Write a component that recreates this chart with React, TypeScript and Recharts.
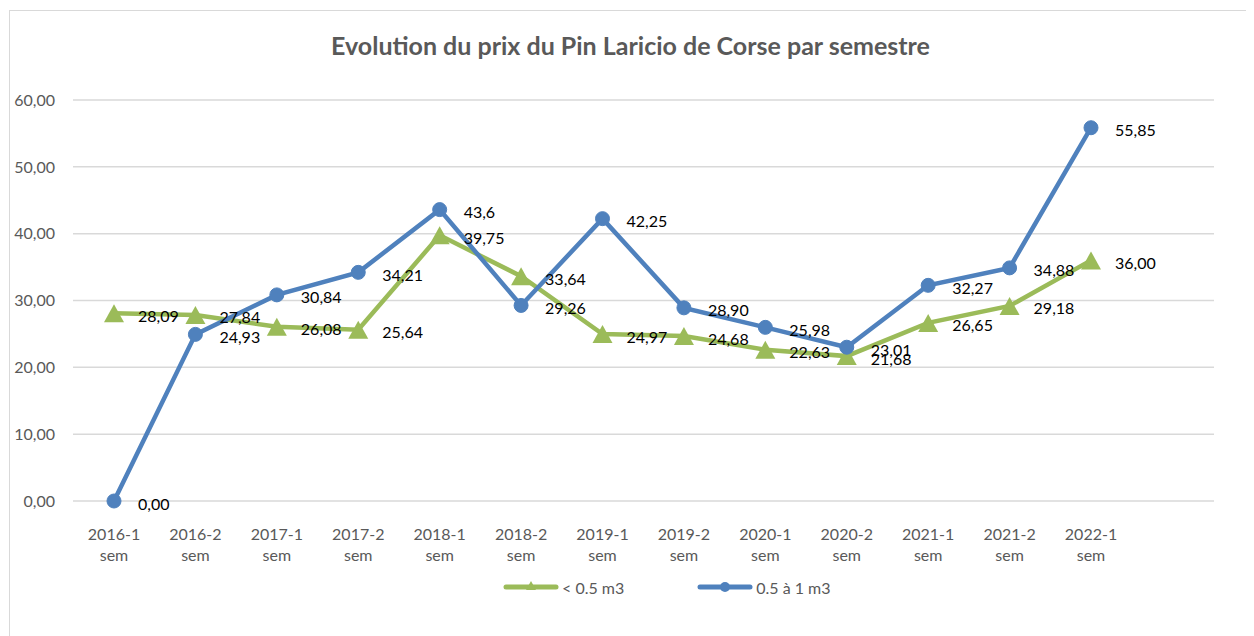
import { CartesianGrid, LabelList, Legend, Line, LineChart, XAxis, YAxis } from "recharts"

const periods = [
  "2016-1 sem",
  "2016-2 sem",
  "2017-1 sem",
  "2017-2 sem",
  "2018-1 sem",
  "2018-2 sem",
  "2019-1 sem",
  "2019-2 sem",
  "2020-1 sem",
  "2020-2 sem",
  "2021-1 sem",
  "2021-2 sem",
  "2022-1 sem",
]

// < 0.5 m3
const smallLogValues = [28.09, 27.84, 26.08, 25.64, 39.75, 33.64, 24.97, 24.68, 22.63, 21.68, 26.65, 29.18, 36.0]
const smallLogLabels = ["28,09", "27,84", "26,08", "25,64", "39,75", "33,64", "24,97", "24,68", "22,63", "21,68", "26,65", "29,18", "36,00"]

// 0.5 à 1 m3
const mediumLogValues = [0.0, 24.93, 30.84, 34.21, 43.6, 29.26, 42.25, 28.9, 25.98, 23.01, 32.27, 34.88, 55.85]
const mediumLogLabels = ["0,00", "24,93", "30,84", "34,21", "43,6", "29,26", "42,25", "28,90", "25,98", "23,01", "32,27", "34,88", "55,85"]

const yTicks = [0, 10, 20, 30, 40, 50, 60]

const seriesOrder = ["small", "medium"]

const GREEN = "#9BBB59"
const BLUE = "#4F81BD"
const GREY_TEXT = "#595959"
const FONT = "Lato, 'Open Sans', sans-serif"

const data = periods.map((period, i) => ({
  period,
  small: smallLogValues[i],
  medium: mediumLogValues[i],
}))

function PeriodTick({ x, y, payload }: any) {
  const [year, unit] = String(payload.value).split(" ")
  return (
    <text x={x} y={y} textAnchor="middle" fill={GREY_TEXT} fontSize={16} fontFamily={FONT}>
      <tspan x={x} dy={31}>{year}</tspan>
      <tspan x={x} dy={21}>{unit}</tspan>
    </text>
  )
}

function TriangleDot({ cx, cy, index }: any) {
  if (cx == null || cy == null) return null
  return (
    <polygon
      key={`tri-${index}`}
      points={`${cx},${cy - 9} ${cx + 10},${cy + 9} ${cx - 10},${cy + 9}`}
      fill={GREEN}
    />
  )
}

const valueLabel = (texts: string[]) => (props: any) => {
  const { x, y, index } = props
  return (
    <text
      key={`lbl-${index}`}
      x={x + 24}
      y={y + 2}
      dominantBaseline="central"
      fontSize={16}
      fontFamily={FONT}
      fill="#000"
    >
      {texts[index]}
    </text>
  )
}

function SeriesLegend({ payload }: any) {
  const items = [...(payload || [])].sort(
    (a: any, b: any) => seriesOrder.indexOf(a.dataKey) - seriesOrder.indexOf(b.dataKey),
  )
  return (
    <div style={{ display: "flex", alignItems: "center", height: 24, paddingLeft: 493 }}>
      {items.map((entry: any, i: number) => (
        <div key={entry.value} style={{ display: "flex", alignItems: "center", marginLeft: i === 0 ? 0 : 73 }}>
          <svg width={56} height={16}>
            <line x1={3} y1={8} x2={53} y2={8} stroke={entry.color} strokeWidth={5} strokeLinecap="round" />
            {entry.dataKey === "small" ? (
              <polygon points="28,2 33,11 23,11" fill={entry.color} />
            ) : (
              <circle cx={28} cy={8} r={5} fill={entry.color} />
            )}
          </svg>
          <span style={{ marginLeft: 3, color: GREY_TEXT, fontSize: 16, fontFamily: FONT }}>{entry.value}</span>
        </div>
      ))}
    </div>
  )
}

export default function App() {
  return (
    <div
      style={{
        position: "relative",
        left: 1,
        top: 2,
        width: 1243,
        height: 628,
        boxSizing: "border-box",
        border: "1px solid #d9d9d9",
        background: "#fff",
        fontFamily: FONT,
      }}
    >
      <div
        style={{
          position: "absolute",
          top: 19,
          left: 0,
          width: "100%",
          textAlign: "center",
          fontSize: 25,
          fontWeight: 700,
          color: GREY_TEXT,
        }}
      >
        Evolution du prix du Pin Laricio de Corse par semestre
      </div>
      <LineChart width={1241} height={626} data={data} margin={{ top: 89, right: 37, left: 0, bottom: 38 }}>
        <CartesianGrid vertical={false} stroke="#d9d9d9" strokeWidth={1.5} />
        <XAxis
          dataKey="period"
          scale="point"
          padding={{ left: 41, right: 123 }}
          interval={0}
          tickLine={false}
          axisLine={false}
          height={74}
          tick={<PeriodTick />}
        />
        <YAxis
          domain={[0, 60]}
          ticks={yTicks}
          width={63}
          tickLine={false}
          axisLine={false}
          tickSize={0}
          tickMargin={18}
          tick={{ fill: GREY_TEXT, fontSize: 16, fontFamily: FONT }}
          tickFormatter={(v: number) => v.toFixed(2).replace(".", ",")}
        />
        <Legend verticalAlign="bottom" content={<SeriesLegend />} />
        <Line
          type="linear"
          dataKey="small"
          name="< 0.5 m3"
          stroke={GREEN}
          strokeWidth={4.5}
          dot={<TriangleDot />}
          activeDot={false}
          isAnimationActive={false}
        >
          <LabelList dataKey="small" content={valueLabel(smallLogLabels)} />
        </Line>
        <Line
          type="linear"
          dataKey="medium"
          name="0.5 à 1 m3"
          stroke={BLUE}
          strokeWidth={4.5}
          dot={{ r: 7, fill: BLUE, stroke: BLUE, strokeWidth: 1 }}
          activeDot={false}
          isAnimationActive={false}
        >
          <LabelList dataKey="medium" content={valueLabel(mediumLogLabels)} />
        </Line>
      </LineChart>
    </div>
  )
}
